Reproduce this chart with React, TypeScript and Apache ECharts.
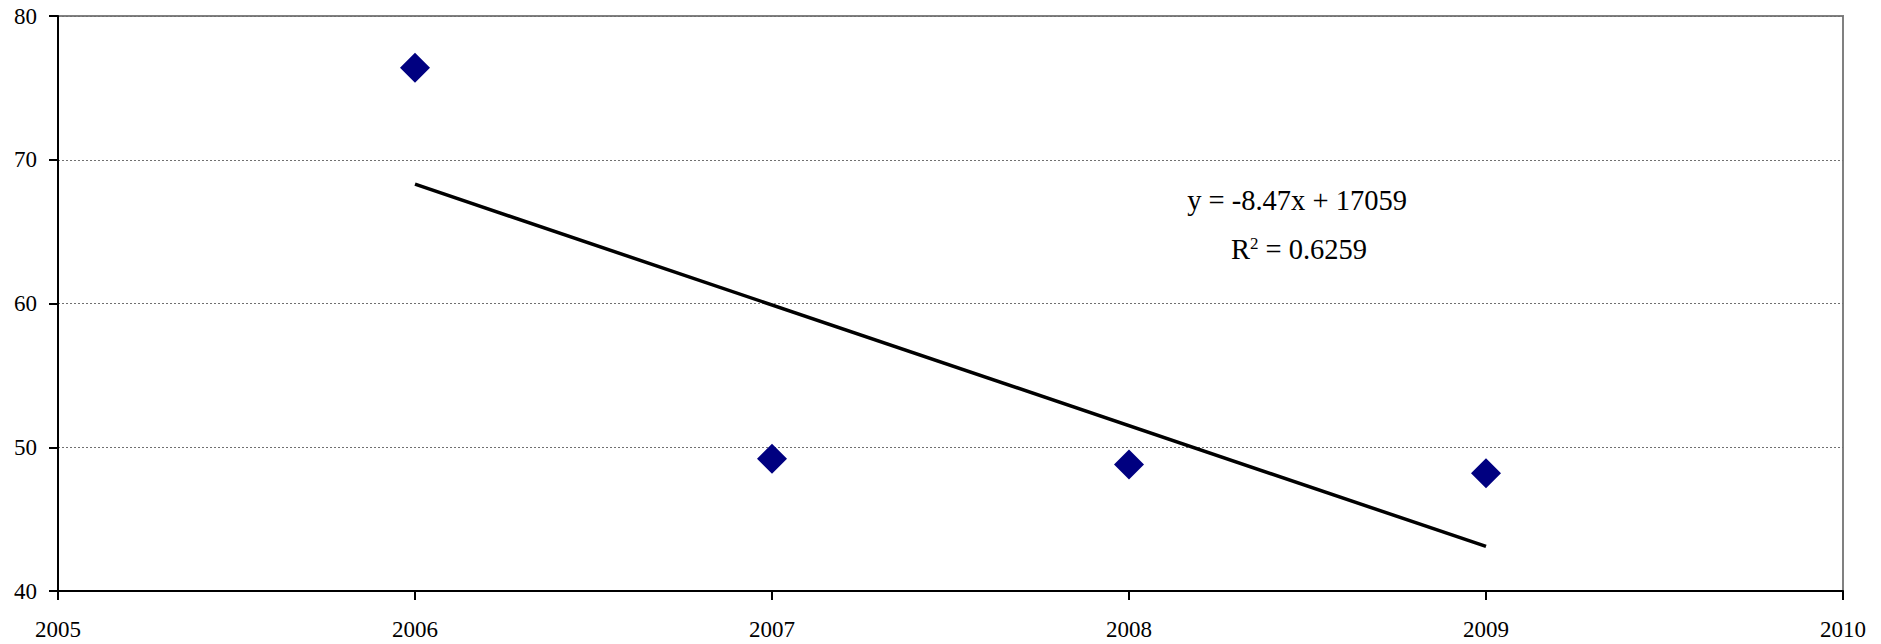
import React, { useEffect, useRef } from "react";
import * as echarts from "echarts";

const years = [2006, 2007, 2008, 2009];
const values = [76.4, 49.2, 48.8, 48.2];
const trendYears = [2006, 2009];
const trendValues = [68.3, 43.1];
const equationText = "y = -8.47x + 17059";
const r2Text = " = 0.6259";

export default function App() {
  const ref = useRef<HTMLDivElement>(null);
  useEffect(() => {
    if (!ref.current) return;
    const chart = echarts.init(ref.current, undefined, { renderer: "svg" });
    const font = "'Liberation Serif', 'Times New Roman', serif";
    chart.setOption({
      animation: false,
      backgroundColor: "#ffffff",
      grid: {
        left: 58,
        right: 38,
        top: 16,
        bottom: 53,
        show: true,
        borderColor: "#808080",
        borderWidth: 2,
        backgroundColor: "transparent",
      },
      xAxis: {
        type: "value",
        min: 2005,
        max: 2010,
        interval: 1,
        axisLine: { show: true, onZero: false, lineStyle: { color: "#000", width: 2 } },
        axisTick: { show: true, length: 9, lineStyle: { color: "#000", width: 2 } },
        axisLabel: {
          margin: 27,
          fontFamily: font,
          fontSize: 23,
          color: "#000",
          formatter: (v: number) => String(v),
        },
        splitLine: { show: false },
      },
      yAxis: {
        type: "value",
        min: 40,
        max: 80,
        interval: 10,
        axisLine: { show: true, onZero: false, lineStyle: { color: "#000", width: 2 } },
        axisTick: { show: true, length: 9, lineStyle: { color: "#000", width: 2 } },
        axisLabel: {
          margin: 21,
          fontFamily: font,
          fontSize: 23,
          color: "#000",
        },
        splitLine: {
          show: true,
          lineStyle: { color: "#707070", width: 1, type: [2, 2] },
        },
      },
      series: [
        {
          type: "line",
          data: trendYears.map((y, i) => [y, trendValues[i]]),
          symbol: "none",
          lineStyle: { color: "#000", width: 3.5 },
          z: 2,
        },
        {
          type: "scatter",
          data: years.map((y, i) => [y, values[i]]),
          symbol: "diamond",
          symbolSize: 30,
          itemStyle: { color: "#000080", opacity: 1 },
          z: 3,
        },
      ],
      graphic: [
        {
          type: "text",
          x: 1297,
          y: 200,
          style: {
            text: equationText,
            fontFamily: font,
            fontSize: 28.5,
            fill: "#000",
            align: "center",
            verticalAlign: "middle",
          },
        },
        {
          type: "text",
          x: 1299,
          y: 249,
          style: {
            text: "{a|R}{s|2}{a|" + r2Text + "}",
            fontFamily: font,
            fontSize: 28.5,
            fill: "#000",
            align: "center",
            verticalAlign: "middle",
            rich: {
              a: { fontFamily: font, fontSize: 28.5, fill: "#000", color: "#000" },
              s: {
                fontFamily: font,
                fontSize: 17,
                fill: "#000",
                color: "#000",
                verticalAlign: "top",
              },
            },
          },
        },
      ],
    });
    return () => chart.dispose();
  }, []);
  return (
    <div
      ref={ref}
      style={{ position: "fixed", left: 0, top: 0, width: 1881, height: 644 }}
    />
  );
}
